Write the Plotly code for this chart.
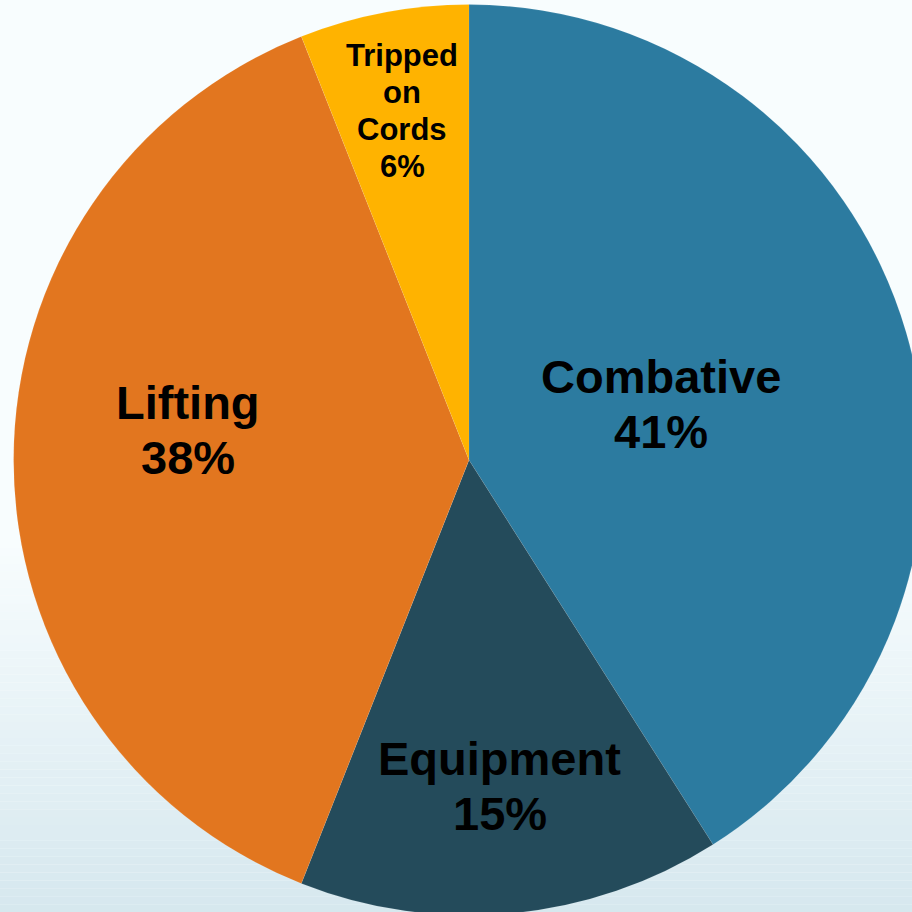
import math
import plotly.graph_objects as go

# ---- data ----
categories = ["Combative", "Equipment", "Lifting", "Tripped on Cords"]
values = [41, 15, 38, 6]
label_lines = [["Combative", "41%"], ["Equipment", "15%"], ["Lifting", "38%"], ["Tripped", "on", "Cords", "6%"]]

# ---- style ----
colors = ["#2C7BA0", "#244B5B", "#E2761F", "#FFB300"]
label_sizes = [47, 47, 47, 31]
label_pitch = [55, 55, 55, 37]
label_rfrac = [0.44, 0.72, 0.62, 0.78]
label_angle_tweak = [0, 0, 6, 0]

W, H = 938, 920
R_PX = 455.4

fig = go.Figure()
fig.add_trace(go.Pie(
    labels=categories,
    values=values,
    sort=False,
    direction="clockwise",
    rotation=0,
    marker=dict(colors=colors, line=dict(color="rgba(255,255,255,0.15)", width=0.5)),
    textinfo="none",
    hoverinfo="label+percent",
    domain=dict(x=[0, 1], y=[0.005, 0.995]),
    showlegend=False,
))

# labels placed at the slice mid-angles computed from the values
total = sum(values)
cum = 0
annotations = []
for v, lines, fs, pitch, rf, tw in zip(values, label_lines, label_sizes, label_pitch, label_rfrac, label_angle_tweak):
    mid = (cum + v / 2) / total * 360 + tw
    cum += v
    th = math.radians(mid)
    cx = 0.5 + R_PX * rf * math.sin(th) / W
    cy = 0.5 + R_PX * rf * math.cos(th) / H
    nl = len(lines)
    for j, line in enumerate(lines):
        off = ((nl - 1) / 2 - j) * pitch
        annotations.append(dict(
            x=cx, y=cy + off / H, xref="paper", yref="paper",
            text="<b>" + line + "</b>", showarrow=False,
            xanchor="center", yanchor="middle",
            font=dict(family="Liberation Sans, Arial, sans-serif", size=fs, color="#000000"),
        ))

# background gradient strips
shapes = []
top_c = (248, 253, 254)
bot_c = (213, 231, 238)
start_px, end_px = 540, 920
n = 48
for i in range(n):
    y0 = start_px + (end_px - start_px) * i / n
    y1 = start_px + (end_px - start_px) * (i + 1) / n
    t = (i + 0.5) / n
    c = tuple(round(top_c[k] + (bot_c[k] - top_c[k]) * t) for k in range(3))
    shapes.append(dict(
        type="rect", xref="paper", yref="paper", x0=0, x1=1,
        y0=1 - y1 / H, y1=1 - y0 / H,
        fillcolor="rgb(%d,%d,%d)" % c, line=dict(width=0), layer="below",
    ))

fig.update_layout(
    width=W, height=H,
    margin=dict(l=0, r=0, t=0, b=0),
    paper_bgcolor="rgb(248,253,254)",
    plot_bgcolor="rgba(0,0,0,0)",
    annotations=annotations,
    shapes=shapes,
    showlegend=False,
)

fig.write_html(
    "out.html",
    config={"displayModeBar": False},
    post_script="document.documentElement.style.overflow='hidden';"
                "document.body.style.overflow='hidden';"
                "document.body.style.margin='0';",
)
